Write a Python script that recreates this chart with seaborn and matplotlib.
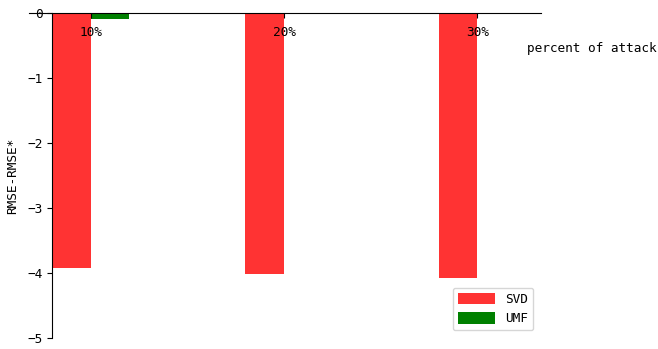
import matplotlib
matplotlib.use("Agg")
import matplotlib.pyplot as plt
import seaborn as sns
import pandas as pd

# Drop in RMSE under different attack percentages
attack_levels = ["10%", "20%", "30%"]
svd_delta = [-3.92, -4.02, -4.07]
umf_delta = [-0.09, -0.015, -0.015]
methods = ["SVD", "UMF"]

df = pd.DataFrame({
    "attack": attack_levels * 2,
    "method": [methods[0]] * 3 + [methods[1]] * 3,
    "delta": svd_delta + umf_delta,
})

plt.rcParams["font.family"] = ["DejaVu Sans Mono", "DejaVu Sans"]
plt.rcParams["font.size"] = 9.2

fig = plt.figure(figsize=(6.58, 3.49), dpi=100)
ax = fig.add_axes([0.0441, 0.0315, 0.778, 0.9313])

sns.barplot(data=df, x="attack", y="delta", hue="method", ax=ax,
            palette={"SVD": "#FF3333", "UMF": "#008000"},
            saturation=1, width=0.4, errorbar=None, linewidth=0)

ax.set_xlim(-0.32, 2.33)
ax.set_ylim(-5, 0)
ax.set_yticks([0, -1, -2, -3, -4, -5])
ax.tick_params(axis="x", pad=6)

# Axes lines cross at the origin
ax.spines["top"].set_visible(False)
ax.spines["right"].set_visible(False)
ax.spines["bottom"].set_position(("data", 0))
ax.spines["left"].set_position(("data", -0.2))

ax.set_xlabel("percent of attack")
ax.xaxis.set_label_coords(1.10, 0.91)
ax.set_ylabel("RMSE-RMSE*")
ax.yaxis.set_label_coords(-0.02, 0.5)

ax.legend(loc="lower right", title=None, handlelength=2.9,
          handleheight=1.0, borderaxespad=0.6)

fig.savefig("out.png", dpi=100)
